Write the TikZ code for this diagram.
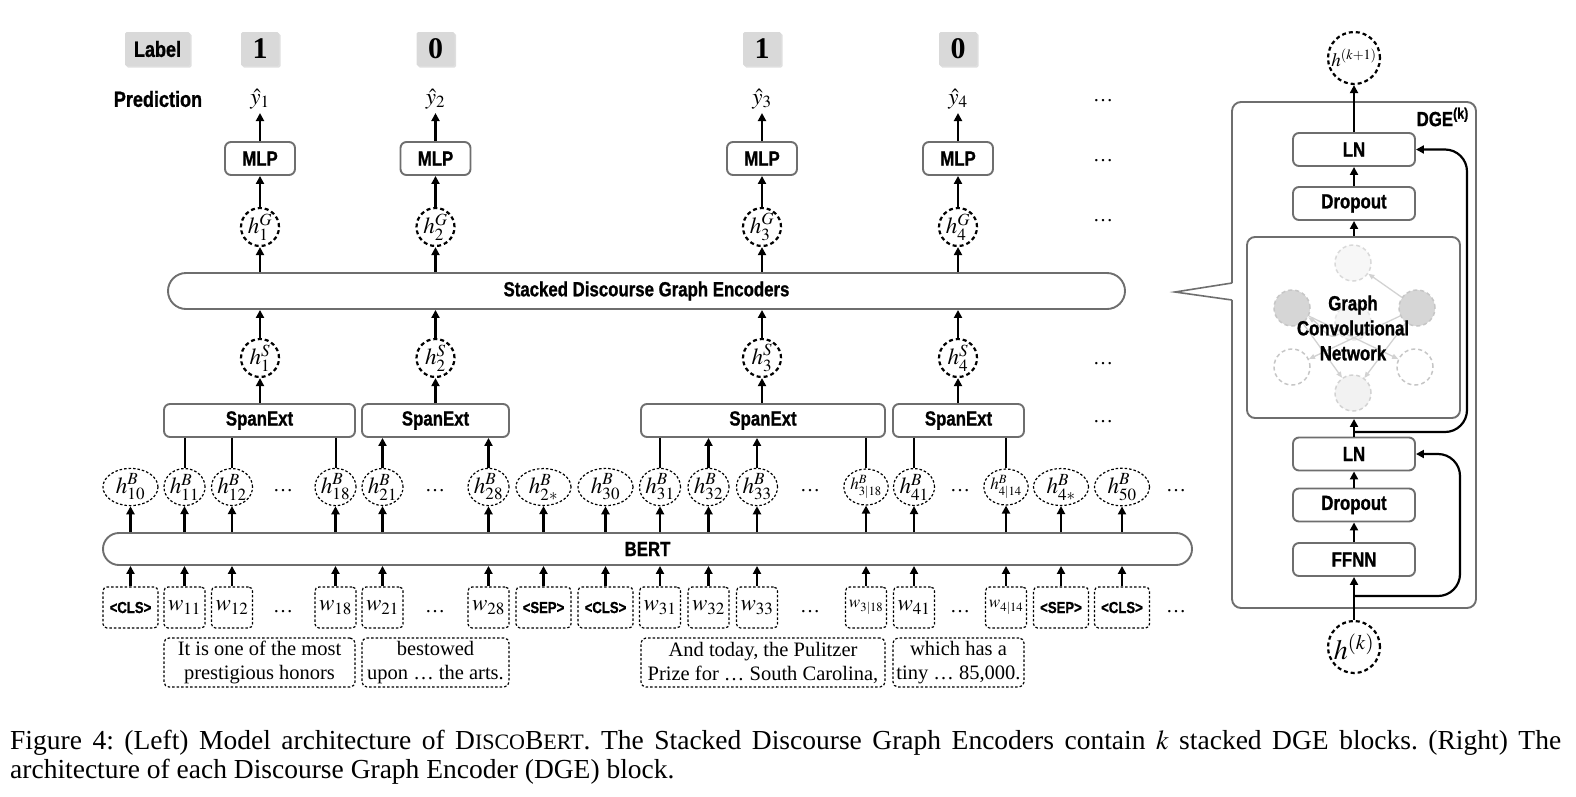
\documentclass[tikz,border=0pt]{standalone}
\usepackage{mathptmx}
\usepackage{fontspec}
\setmainfont{Liberation Serif}
\usetikzlibrary{arrows.meta,shapes.geometric,shadows,calc}
\newfontfamily\cnd[FakeStretch=0.82,BoldFeatures={FakeBold=1}]{Liberation Sans}
\newfontfamily\tms{Liberation Serif}
\newcommand\fsz[1]{\fontsize{#1}{#1}\selectfont}
\newcommand\tk{\cnd\bfseries\fsz{16}}
\definecolor{bord}{HTML}{6E6E6E}
\definecolor{labg}{HTML}{D9D9D9}
\frenchspacing
\tikzset{
 arr/.style={line width=2.2pt, -{Triangle[length=8pt,width=8pt]}},
 plainln/.style={line width=2pt},
 blk/.style={draw=bord, line width=1.9pt, rounded corners=6pt, fill=white, font=\cnd\bfseries\fsz{20.5}, inner sep=0pt},
 labbox/.style={fill=labg, rounded corners=1.5pt, minimum height=34pt, inner sep=0pt, drop shadow={shadow xshift=1.5pt, shadow yshift=-1.5pt, opacity=0.25}},
 dcirc/.style={circle, draw, line width=2.2pt, dash pattern=on 4pt off 3pt, minimum size=38pt, inner sep=0pt, font=\fsz{23}},
 bell/.style={ellipse, draw, line width=1.2pt, dash pattern=on 2.5pt off 2pt, minimum height=36pt, inner sep=0pt, font=\fsz{23}},
 tokb/.style={draw, line width=1.2pt, dash pattern=on 2.5pt off 2pt, rounded corners=4pt, minimum height=41pt, inner sep=0pt, font=\fsz{23}},
 txtb/.style={draw, line width=1.2pt, dash pattern=on 2.5pt off 2pt, rounded corners=5pt, minimum height=49pt, inner sep=0pt, align=center, font=\tms\fontsize{20.5}{24}\selectfont},
 dts/.style={font=\tms\fsz{20}, inner sep=0pt},
 ypred/.style={font=\fsz{23}, inner sep=1pt, outer sep=3pt},
 gn/.style={circle, draw=gray!45, line width=1.5pt, dash pattern=on 4pt off 3pt, minimum size=36pt, inner sep=0pt},
 gedge/.style={draw=gray!35, line width=1.3pt, -{Triangle[length=6pt,width=5pt]}},
}
\begin{document}
\begin{tikzpicture}[x=1pt,y=-1pt]
\useasboundingbox (0,0) rectangle (1576,796);

% ---------- label row ----------
\node[labbox, minimum width=65pt, font=\cnd\bfseries\fsz{22}] (lab) at (157.5,49) {Label};
\node[labbox, minimum width=38pt, font=\tms\bfseries\fsz{30}] (l1) at (260,49) {1};
\node[labbox, minimum width=38pt, font=\tms\bfseries\fsz{30}] (l2) at (435.5,49) {0};
\node[labbox, minimum width=38pt, font=\tms\bfseries\fsz{30}] (l3) at (762,49) {1};
\node[labbox, minimum width=38pt, font=\tms\bfseries\fsz{30}] (l4) at (958,49) {0};

% ---------- prediction row ----------
\node[font=\cnd\bfseries\fsz{22}] (pred) at (158,99) {Prediction};
\node[ypred] (y1) at (260,99) {$\hat{y}_1$};
\node[ypred] (y2) at (435.5,99) {$\hat{y}_2$};
\node[ypred] (y3) at (762,99) {$\hat{y}_3$};
\node[ypred] (y4) at (958,99) {$\hat{y}_4$};

% ---------- MLP ----------
\node[blk, minimum width=70pt, minimum height=33pt] (m1) at (260,158.5) {MLP};
\node[blk, minimum width=70pt, minimum height=33pt] (m2) at (435.5,158.5) {MLP};
\node[blk, minimum width=70pt, minimum height=33pt] (m3) at (762,158.5) {MLP};
\node[blk, minimum width=70pt, minimum height=33pt] (m4) at (958,158.5) {MLP};

% ---------- hG ----------
\node[dcirc] (g1) at (260,227) {$h^G_1$};
\node[dcirc] (g2) at (435.5,227) {$h^G_2$};
\node[dcirc] (g3) at (762,227) {$h^G_3$};
\node[dcirc] (g4) at (958,227) {$h^G_4$};

% ---------- SDGE ----------
\node[blk, rounded corners=18pt, minimum width=957pt, minimum height=36pt] (sdge) at (646.5,291) {Stacked Discourse Graph Encoders};

% ---------- hS ----------
\node[dcirc] (s1) at (260,358) {$h^S_1$};
\node[dcirc] (s2) at (435.5,358) {$h^S_2$};
\node[dcirc] (s3) at (762,358) {$h^S_3$};
\node[dcirc] (s4) at (958,358) {$h^S_4$};

% ---------- SpanExt ----------
\node[blk, minimum width=191pt, minimum height=33pt] (se1) at (259.5,420.5) {SpanExt};
\node[blk, minimum width=147pt, minimum height=33pt] (se2) at (435.5,420.5) {SpanExt};
\node[blk, minimum width=244pt, minimum height=33pt] (se3) at (763,420.5) {SpanExt};
\node[blk, minimum width=131pt, minimum height=33pt] (se4) at (958.5,420.5) {SpanExt};

\foreach \c in {1,2,3,4}{
  \draw[arr] (m\c.north) -- (y\c.south);
  \draw[arr] (g\c.north) -- (m\c.south);
  \draw[arr] (g\c |- sdge.north) -- (g\c.south);
  \draw[arr] (s\c.north) -- (s\c |- sdge.south);
  \draw[arr] (s\c |- se\c.north) -- (s\c.south);
}

% ---------- BERT ----------
\node[blk, rounded corners=16pt, minimum width=1089pt, minimum height=32pt] (bert) at (647.5,549) {BERT};

% ---------- tokens ----------
\foreach \n/\x/\w/\tokl/\hbl in {
 a/130.5/55/{\tk <CLS>}/{$h^B_{10}$},
 b/184.5/41/{$w_{11}$}/{$h^B_{11}$},
 c/232/41/{$w_{12}$}/{$h^B_{12}$},
 e/335.5/41/{$w_{18}$}/{$h^B_{18}$},
 f/382.5/41/{$w_{21}$}/{$h^B_{21}$},
 g/488.5/41/{$w_{28}$}/{$h^B_{28}$},
 h/543.5/55/{\tk <SEP>}/{$h^B_{2*}$},
 i/605.5/55/{\tk <CLS>}/{$h^B_{30}$},
 j/660/41/{$w_{31}$}/{$h^B_{31}$},
 k/708.5/41/{$w_{32}$}/{$h^B_{32}$},
 l/757/41/{$w_{33}$}/{$h^B_{33}$},
 m/866/41/{\fsz{17}$w_{3|18}$}/{\fsz{17}$h^B_{3|18}$},
 n/914/41/{$w_{41}$}/{$h^B_{41}$},
 o/1006/41/{\fsz{17}$w_{4|14}$}/{\fsz{17}$h^B_{4|14}$},
 p/1061/55/{\tk <SEP>}/{$h^B_{4*}$},
 q/1122/55/{\tk <CLS>}/{$h^B_{50}$}}{
  \node[tokb, minimum width=\w pt] (t\n) at (\x,607.5) {\tokl};
  \node[bell, minimum width=\w pt] (b\n) at (\x,487) {\hbl};
  \draw[arr] (t\n.north) -- (t\n.north |- bert.south);
  \draw[arr] (bert.north -| b\n.south) -- (b\n.south);
}

% SpanExt <-> hB connections
\foreach \n in {b,c,e}{\draw[plainln] (se1.south -| b\n.north) -- (b\n.north);}
\foreach \n in {f,g}{\draw[arr] (b\n.north) -- (b\n.north |- se2.south);}
\foreach \n in {j,m}{\draw[plainln] (se3.south -| b\n.north) -- (b\n.north);}
\foreach \n in {k,l}{\draw[arr] (b\n.north) -- (b\n.north |- se3.south);}
\foreach \n in {n,o}{\draw[plainln] (se4.south -| b\n.north) -- (b\n.north);}

% dots
\foreach \x [count=\i] in {283,435,810,960,1176}{
  \node[dts] (hd\i) at (\x,491) {\dots};
  \node[dts] (td\i) at (\x,612) {\dots};
}
\node[dts] (rd1) at (1103,101) {\dots};
\node[dts] (rd2) at (1103,161) {\dots};
\node[dts] (rd3) at (1103,221) {\dots};
\node[dts] (rd4) at (1103,364) {\dots};
\node[dts] (rd5) at (1103,422) {\dots};

% ---------- sentence boxes ----------
\node[txtb, minimum width=191pt] (x1) at (259.5,662.5) {It is one of the most\\prestigious honors};
\node[txtb, minimum width=147pt] (x2) at (435.5,662.5) {bestowed\\upon \ldots{} the arts.};
\node[txtb, minimum width=244pt] (x3) at (763,662.5) {And today, the Pulitzer\\Prize for \ldots{} South Carolina,};
\node[txtb, minimum width=131pt] (x4) at (958.5,662.5) {which has a\\tiny \ldots{} 85,000.};

% ---------- right panel: DGE ----------
\draw[draw=bord, line width=1.9pt, rounded corners=9pt] (1232,300) -- (1232,608) -- (1476,608) -- (1476,102) -- (1232,102) -- (1232,283);
\draw[draw=bord, line width=1.6pt, line join=miter] (1232,283) -- (1175,292) -- (1232,300);
\node[font=\cnd\bfseries\fsz{20.5}, anchor=east, inner sep=0pt] (dgel) at (1469,117) {DGE\textsuperscript{(k)}};

\node[dcirc, minimum size=52pt, font=\fsz{19}] (hk1) at (1354,58) {$h^{(k+1)}$};
\node[dcirc, minimum size=52pt, font=\fsz{28}] (hk) at (1354,647) {$h^{(k)}$};

\node[blk, minimum width=122pt, minimum height=33pt] (ln1) at (1354,149.5) {LN};
\node[blk, minimum width=122pt, minimum height=33pt] (dr1) at (1354,203.5) {Dropout};
\node[draw=bord, line width=1.9pt, rounded corners=8pt, minimum width=213pt, minimum height=181pt, inner sep=0pt] (gcn) at (1353.5,327.5) {};
\node[blk, minimum width=122pt, minimum height=33pt] (ln2) at (1354,454) {LN};
\node[blk, minimum width=122pt, minimum height=33pt] (dr2) at (1354,505) {Dropout};
\node[blk, minimum width=122pt, minimum height=33pt] (ff) at (1354,559.5) {FFNN};

% graph inside GCN
\node[gn, fill=gray!6, draw=gray!30] (gT) at (1353,263) {};
\node[gn, fill=gray!8, draw=gray!20] (gC) at (1353,322) {};
\node[gn, fill=gray!32] (gL) at (1292,308) {};
\node[gn, fill=gray!32] (gR) at (1417,308) {};
\node[gn] (gBL) at (1292,367) {};
\node[gn] (gBR) at (1415,367) {};
\node[gn, fill=gray!10, draw=gray!35] (gB) at (1353,393) {};
\draw[gedge] (gR) -- (gT);
\draw[gedge] (gC) to[out=-140, in=-30] (gL);
\draw[gedge] (gL) -- (gB);
\draw[gedge] (gR) -- (gBL);
\draw[gedge] (gL) -- (gBR);
\draw[gedge] (gR) -- (gB);
\node[font=\cnd\bfseries\fontsize{20.5}{25}\selectfont, align=center] (gcnt) at (1353,328) {Graph\\Convolutional\\Network};

\coordinate (br1) at (1354,432);
\coordinate (br2) at (1354,596);
\draw[arr] (ln1.north) -- (hk1.south);
\draw[arr] (dr1.north) -- (ln1.south);
\draw[arr] (dr1.south |- gcn.north) -- (dr1.south);
\draw[arr] (ln2.north) -- (ln2.north |- gcn.south);
\draw[arr] (dr2.north) -- (ln2.south);
\draw[arr] (ff.north) -- (dr2.south);
\draw[arr] (hk.north) -- (ff.south);
\draw[arr, rounded corners=22pt] (br1) -| (1467,149.5) -- (ln1.east);
\draw[arr, rounded corners=22pt] (br2) -| (1460,454) -- (ln2.east);

% ---------- caption ----------
\node[anchor=base west, inner sep=0pt, font=\tms\fsz{27.5}] (cap1) at (10,749) {\frenchspacing\hbox to 1551pt{Figure 4: (Left) Model architecture of D{\fsz{22}ISCO}B{\fsz{22}ERT}. The Stacked Discourse Graph Encoders contain $k$ stacked DGE blocks. (Right) The}};
\node[anchor=base west, inner sep=0pt, font=\tms\fsz{27.5}] (cap2) at (10,778) {\frenchspacing architecture of each Discourse Graph Encoder (DGE) block.};
\end{tikzpicture}
\end{document}
